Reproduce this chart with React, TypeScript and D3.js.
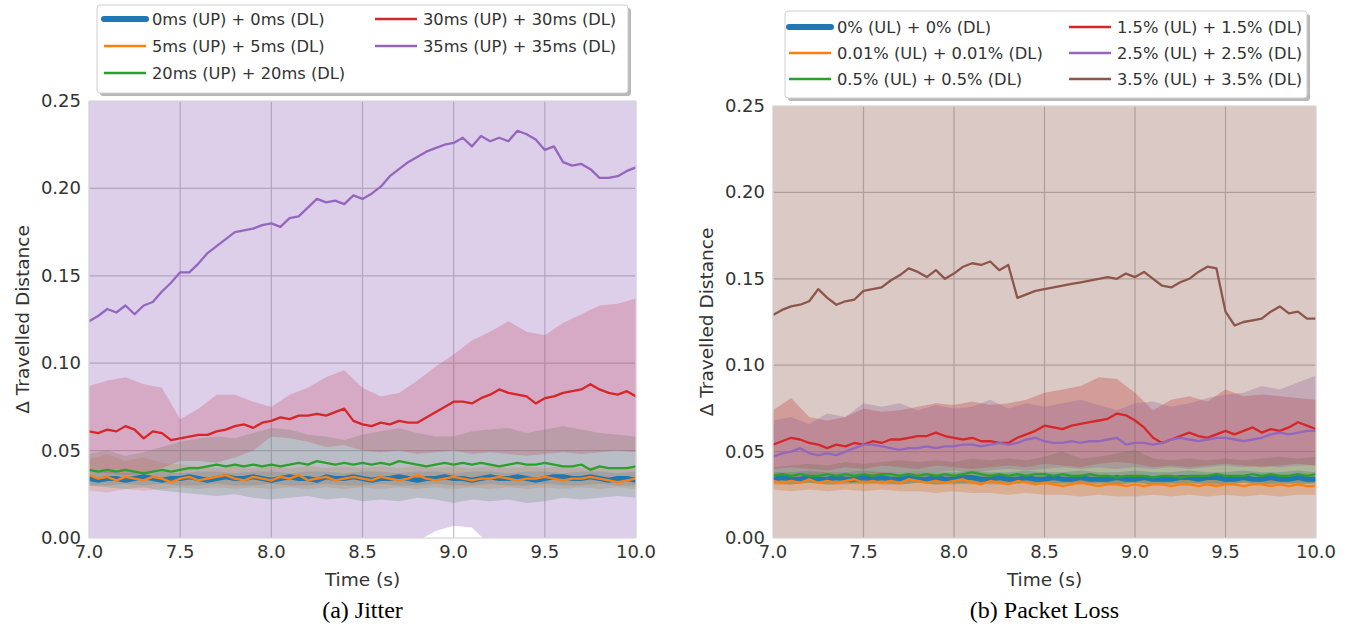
import * as d3 from 'd3'

// mean curves are sampled every 50 ms, the spread bands every 100 ms
const lineTimes = d3.range(61).map((i) => 7 + i * 0.05)
const bandTimes = d3.range(31).map((i) => 7 + i * 0.1)

const xTicks = [7.0, 7.5, 8.0, 8.5, 9.0, 9.5, 10.0]
const yTicks = [0, 0.05, 0.1, 0.15, 0.2, 0.25]

const COLORS = ['#1f77b4', '#ff7f0e', '#2ca02c', '#d62728', '#9467bd', '#8c564b']

// ---------- (a) Jitter ----------
const jitterLabels = [
  '0ms (UP) + 0ms (DL)',
  '5ms (UP) + 5ms (DL)',
  '20ms (UP) + 20ms (DL)',
  '30ms (UP) + 30ms (DL)',
  '35ms (UP) + 35ms (DL)',
]

const jitter0 = [
  0.034, 0.033, 0.034, 0.034, 0.033, 0.034, 0.035, 0.034, 0.033, 0.034,
  0.034, 0.035, 0.034, 0.033, 0.034, 0.035, 0.034, 0.034, 0.035, 0.034,
  0.033, 0.034, 0.035, 0.034, 0.034, 0.033, 0.035, 0.034, 0.034, 0.035,
  0.034, 0.033, 0.034, 0.034, 0.035, 0.034, 0.033, 0.034, 0.034, 0.035,
  0.034, 0.034, 0.033, 0.034, 0.035, 0.034, 0.034, 0.035, 0.034, 0.033,
  0.034, 0.035, 0.035, 0.034, 0.034, 0.035, 0.034, 0.033, 0.034, 0.034,
  0.033,
]
const jitter5 = [
  0.036, 0.034, 0.035, 0.033, 0.035, 0.034, 0.033, 0.035, 0.034, 0.032,
  0.034, 0.035, 0.033, 0.034, 0.035, 0.036, 0.034, 0.033, 0.035, 0.034,
  0.033, 0.035, 0.034, 0.036, 0.033, 0.034, 0.035, 0.033, 0.034, 0.035,
  0.034, 0.033, 0.035, 0.034, 0.033, 0.034, 0.036, 0.034, 0.033, 0.034,
  0.035, 0.034, 0.033, 0.034, 0.034, 0.035, 0.034, 0.033, 0.034, 0.034,
  0.035, 0.034, 0.033, 0.034, 0.034, 0.035, 0.034, 0.033, 0.032, 0.033,
  0.034,
]
const jitter20 = [
  0.039, 0.038, 0.039, 0.038, 0.039, 0.038, 0.037, 0.038, 0.039, 0.038,
  0.039, 0.040, 0.040, 0.041, 0.042, 0.041, 0.042, 0.041, 0.042, 0.041,
  0.042, 0.041, 0.042, 0.043, 0.042, 0.044, 0.043, 0.042, 0.043, 0.042,
  0.043, 0.042, 0.043, 0.042, 0.044, 0.043, 0.042, 0.041, 0.042, 0.043,
  0.042, 0.043, 0.042, 0.043, 0.042, 0.041, 0.042, 0.043, 0.042, 0.042,
  0.043, 0.042, 0.041, 0.041, 0.042, 0.039, 0.041, 0.040, 0.040, 0.040,
  0.041,
]
const jitter30 = [
  0.061, 0.060, 0.062, 0.061, 0.064, 0.062, 0.057, 0.061, 0.060, 0.056,
  0.057, 0.058, 0.059, 0.059, 0.061, 0.062, 0.064, 0.065, 0.063, 0.066,
  0.067, 0.069, 0.068, 0.070, 0.070, 0.071, 0.070, 0.072, 0.074, 0.067,
  0.065, 0.064, 0.066, 0.065, 0.067, 0.066, 0.066, 0.069, 0.072, 0.075,
  0.078, 0.078, 0.077, 0.080, 0.082, 0.085, 0.083, 0.082, 0.081, 0.077,
  0.080, 0.081, 0.083, 0.084, 0.085, 0.088, 0.085, 0.083, 0.082, 0.084,
  0.081,
]
const jitter35 = [
  0.124, 0.127, 0.131, 0.129, 0.133, 0.128, 0.133, 0.135, 0.141, 0.146,
  0.152, 0.152, 0.157, 0.163, 0.167, 0.171, 0.175, 0.176, 0.177, 0.179,
  0.180, 0.178, 0.183, 0.184, 0.189, 0.194, 0.192, 0.193, 0.191, 0.196,
  0.194, 0.197, 0.201, 0.207, 0.211, 0.215, 0.218, 0.221, 0.223, 0.225,
  0.226, 0.229, 0.224, 0.230, 0.227, 0.229, 0.227, 0.233, 0.231, 0.228,
  0.222, 0.224, 0.215, 0.213, 0.214, 0.211, 0.206, 0.206, 0.207, 0.210,
  0.212,
]

const jitter0Lo = [0.030, 0.030, 0.031, 0.030, 0.031, 0.030, 0.030, 0.031, 0.030, 0.030, 0.031, 0.030, 0.030, 0.031, 0.030, 0.030, 0.031, 0.030, 0.030, 0.031, 0.030, 0.030, 0.031, 0.030, 0.030, 0.031, 0.030, 0.030, 0.031, 0.030, 0.030]
const jitter0Hi = [0.038, 0.038, 0.037, 0.038, 0.038, 0.037, 0.038, 0.038, 0.037, 0.038, 0.038, 0.037, 0.038, 0.038, 0.037, 0.038, 0.038, 0.037, 0.038, 0.038, 0.037, 0.038, 0.038, 0.037, 0.038, 0.038, 0.037, 0.038, 0.038, 0.037, 0.038]
const jitter5Lo = [0.027, 0.026, 0.028, 0.027, 0.028, 0.029, 0.028, 0.029, 0.028, 0.029, 0.028, 0.029, 0.028, 0.029, 0.028, 0.029, 0.028, 0.029, 0.028, 0.029, 0.028, 0.029, 0.028, 0.029, 0.028, 0.029, 0.028, 0.029, 0.028, 0.029, 0.028]
const jitter5Hi = [0.045, 0.048, 0.044, 0.046, 0.043, 0.042, 0.041, 0.040, 0.041, 0.040, 0.041, 0.040, 0.041, 0.040, 0.041, 0.040, 0.041, 0.040, 0.041, 0.040, 0.041, 0.040, 0.041, 0.040, 0.041, 0.040, 0.041, 0.040, 0.041, 0.040, 0.040]
const jitter20Lo = [0.030, 0.029, 0.028, 0.029, 0.027, 0.026, 0.025, 0.024, 0.025, 0.023, 0.022, 0.023, 0.024, 0.022, 0.023, 0.021, 0.022, 0.021, 0.023, 0.022, 0.020, 0.022, 0.021, 0.022, 0.020, 0.021, 0.023, 0.022, 0.023, 0.024, 0.023]
const jitter20Hi = [0.048, 0.050, 0.047, 0.049, 0.052, 0.055, 0.057, 0.058, 0.057, 0.060, 0.063, 0.062, 0.059, 0.058, 0.056, 0.059, 0.061, 0.063, 0.060, 0.058, 0.058, 0.061, 0.062, 0.063, 0.060, 0.062, 0.064, 0.062, 0.060, 0.059, 0.058]
const jitter30Lo = [0.038, 0.037, 0.036, 0.037, 0.040, 0.044, 0.044, 0.043, 0.046, 0.050, 0.058, 0.057, 0.055, 0.052, 0.053, 0.050, 0.049, 0.050, 0.048, 0.049, 0.050, 0.048, 0.049, 0.048, 0.047, 0.048, 0.049, 0.048, 0.049, 0.050, 0.049]
const jitter30Hi = [0.087, 0.090, 0.092, 0.088, 0.086, 0.068, 0.074, 0.082, 0.082, 0.078, 0.075, 0.082, 0.086, 0.092, 0.096, 0.086, 0.081, 0.083, 0.090, 0.098, 0.105, 0.113, 0.118, 0.124, 0.118, 0.116, 0.123, 0.128, 0.133, 0.134, 0.137]
const jitter35Lo = [-0.030, -0.030, -0.028, -0.027, -0.025, -0.024, -0.022, -0.020, -0.018, -0.015, -0.012, -0.010, -0.008, -0.006, -0.004, -0.002, -0.002, -0.003, -0.002, 0.004, 0.007, 0.006, -0.004, -0.008, -0.010, -0.012, -0.014, -0.016, -0.018, -0.020, -0.020]
const jitter35Hi = [0.27, 0.28, 0.28, 0.29, 0.30, 0.31, 0.32, 0.33, 0.34, 0.35, 0.35, 0.36, 0.37, 0.37, 0.38, 0.38, 0.39, 0.40, 0.41, 0.42, 0.43, 0.43, 0.43, 0.42, 0.42, 0.41, 0.40, 0.40, 0.39, 0.39, 0.40]

// ---------- (b) Packet loss ----------
const lossLabels = [
  '0% (UL) + 0% (DL)',
  '0.01% (UL) + 0.01% (DL)',
  '0.5% (UL) + 0.5% (DL)',
  '1.5% (UL) + 1.5% (DL)',
  '2.5% (UL) + 2.5% (DL)',
  '3.5% (UL) + 3.5% (DL)',
]

const loss0 = [
  0.034, 0.035, 0.034, 0.034, 0.035, 0.034, 0.034, 0.035, 0.034, 0.034,
  0.035, 0.034, 0.035, 0.034, 0.034, 0.035, 0.034, 0.034, 0.035, 0.034,
  0.034, 0.035, 0.035, 0.034, 0.034, 0.035, 0.034, 0.034, 0.035, 0.034,
  0.034, 0.035, 0.034, 0.034, 0.035, 0.034, 0.034, 0.034, 0.035, 0.034,
  0.034, 0.035, 0.034, 0.034, 0.034, 0.035, 0.035, 0.034, 0.035, 0.035,
  0.034, 0.034, 0.035, 0.034, 0.034, 0.035, 0.034, 0.034, 0.035, 0.034,
  0.034,
]
const loss001 = [
  0.033, 0.032, 0.033, 0.032, 0.034, 0.032, 0.033, 0.032, 0.033, 0.034,
  0.032, 0.033, 0.032, 0.033, 0.032, 0.034, 0.033, 0.032, 0.033, 0.032,
  0.033, 0.034, 0.032, 0.031, 0.033, 0.032, 0.031, 0.033, 0.032, 0.031,
  0.032, 0.031, 0.030, 0.031, 0.032, 0.031, 0.030, 0.031, 0.031, 0.030,
  0.031, 0.030, 0.031, 0.031, 0.030, 0.031, 0.031, 0.030, 0.031, 0.030,
  0.031, 0.031, 0.030, 0.031, 0.031, 0.030, 0.031, 0.030, 0.031, 0.030,
  0.030,
]
const loss05 = [
  0.036, 0.037, 0.036, 0.037, 0.036, 0.036, 0.037, 0.036, 0.037, 0.036,
  0.037, 0.036, 0.037, 0.037, 0.036, 0.037, 0.036, 0.037, 0.036, 0.037,
  0.036, 0.037, 0.038, 0.037, 0.036, 0.037, 0.036, 0.037, 0.036, 0.037,
  0.037, 0.036, 0.037, 0.036, 0.036, 0.037, 0.036, 0.036, 0.035, 0.036,
  0.036, 0.036, 0.035, 0.036, 0.036, 0.035, 0.036, 0.036, 0.036, 0.037,
  0.036, 0.036, 0.036, 0.037, 0.036, 0.037, 0.036, 0.036, 0.037, 0.036,
  0.037,
]
const loss15 = [
  0.054, 0.056, 0.058, 0.057, 0.055, 0.054, 0.052, 0.054, 0.053, 0.055,
  0.054, 0.056, 0.055, 0.057, 0.057, 0.058, 0.059, 0.059, 0.061, 0.059,
  0.058, 0.057, 0.058, 0.056, 0.056, 0.055, 0.055, 0.058, 0.060, 0.062,
  0.065, 0.064, 0.063, 0.065, 0.066, 0.067, 0.068, 0.069, 0.072, 0.071,
  0.068, 0.064, 0.058, 0.055, 0.057, 0.059, 0.061, 0.059, 0.058, 0.060,
  0.062, 0.060, 0.062, 0.064, 0.061, 0.063, 0.062, 0.064, 0.067, 0.065,
  0.063,
]
const loss25 = [
  0.047, 0.049, 0.050, 0.052, 0.049, 0.048, 0.049, 0.048, 0.050, 0.052,
  0.054, 0.054, 0.053, 0.052, 0.051, 0.052, 0.052, 0.053, 0.052, 0.053,
  0.053, 0.054, 0.054, 0.053, 0.054, 0.055, 0.054, 0.055, 0.057, 0.058,
  0.056, 0.055, 0.055, 0.056, 0.055, 0.056, 0.056, 0.057, 0.058, 0.054,
  0.055, 0.055, 0.054, 0.055, 0.057, 0.058, 0.057, 0.056, 0.057, 0.058,
  0.058, 0.057, 0.056, 0.057, 0.058, 0.060, 0.061, 0.060, 0.061, 0.062,
  0.062,
]
const loss35 = [
  0.129, 0.132, 0.134, 0.135, 0.137, 0.144, 0.139, 0.135, 0.137, 0.138,
  0.143, 0.144, 0.145, 0.149, 0.152, 0.156, 0.154, 0.151, 0.155, 0.150,
  0.153, 0.157, 0.159, 0.158, 0.160, 0.155, 0.158, 0.139, 0.141, 0.143,
  0.144, 0.145, 0.146, 0.147, 0.148, 0.149, 0.150, 0.151, 0.150, 0.153,
  0.151, 0.154, 0.150, 0.146, 0.145, 0.148, 0.150, 0.154, 0.157, 0.156,
  0.131, 0.123, 0.125, 0.126, 0.127, 0.131, 0.134, 0.130, 0.131, 0.127,
  0.127,
]

const loss0Lo = [0.031, 0.031, 0.032, 0.031, 0.031, 0.032, 0.031, 0.031, 0.032, 0.031, 0.031, 0.032, 0.031, 0.031, 0.032, 0.031, 0.031, 0.032, 0.031, 0.031, 0.032, 0.031, 0.031, 0.032, 0.031, 0.031, 0.032, 0.031, 0.031, 0.032, 0.031]
const loss0Hi = [0.038, 0.038, 0.039, 0.038, 0.038, 0.039, 0.038, 0.038, 0.039, 0.038, 0.038, 0.039, 0.038, 0.038, 0.039, 0.038, 0.038, 0.039, 0.038, 0.038, 0.039, 0.038, 0.038, 0.039, 0.038, 0.038, 0.039, 0.038, 0.038, 0.039, 0.038]
const loss001Lo = [0.028, 0.027, 0.028, 0.027, 0.028, 0.027, 0.028, 0.027, 0.027, 0.026, 0.027, 0.026, 0.026, 0.025, 0.026, 0.025, 0.025, 0.024, 0.025, 0.024, 0.024, 0.025, 0.024, 0.025, 0.024, 0.025, 0.024, 0.025, 0.024, 0.025, 0.025]
const loss001Hi = [0.038, 0.037, 0.038, 0.038, 0.037, 0.038, 0.038, 0.037, 0.038, 0.037, 0.037, 0.036, 0.037, 0.036, 0.037, 0.036, 0.036, 0.037, 0.036, 0.036, 0.037, 0.036, 0.036, 0.035, 0.036, 0.036, 0.035, 0.036, 0.036, 0.035, 0.036]
const loss05Lo = [0.032, 0.031, 0.032, 0.031, 0.032, 0.031, 0.032, 0.031, 0.032, 0.031, 0.032, 0.031, 0.032, 0.031, 0.032, 0.031, 0.032, 0.031, 0.032, 0.031, 0.032, 0.031, 0.032, 0.031, 0.032, 0.031, 0.032, 0.031, 0.032, 0.031, 0.032]
const loss05Hi = [0.041, 0.042, 0.043, 0.042, 0.044, 0.043, 0.044, 0.045, 0.044, 0.045, 0.044, 0.046, 0.045, 0.046, 0.045, 0.047, 0.050, 0.046, 0.047, 0.049, 0.051, 0.046, 0.045, 0.046, 0.045, 0.046, 0.045, 0.046, 0.047, 0.046, 0.047]
const loss15Lo = [0.040, 0.041, 0.040, 0.039, 0.041, 0.040, 0.042, 0.041, 0.040, 0.042, 0.041, 0.040, 0.041, 0.042, 0.041, 0.043, 0.042, 0.041, 0.043, 0.044, 0.043, 0.041, 0.042, 0.041, 0.042, 0.043, 0.042, 0.041, 0.042, 0.043, 0.042]
const loss15Hi = [0.074, 0.081, 0.070, 0.068, 0.070, 0.075, 0.073, 0.074, 0.076, 0.078, 0.077, 0.079, 0.077, 0.078, 0.080, 0.084, 0.086, 0.088, 0.093, 0.092, 0.084, 0.074, 0.080, 0.082, 0.079, 0.086, 0.082, 0.083, 0.082, 0.081, 0.080]
const loss25Lo = [0.036, 0.037, 0.036, 0.038, 0.037, 0.038, 0.037, 0.038, 0.039, 0.038, 0.039, 0.038, 0.039, 0.040, 0.039, 0.040, 0.041, 0.040, 0.041, 0.040, 0.041, 0.040, 0.041, 0.040, 0.041, 0.042, 0.041, 0.042, 0.041, 0.042, 0.042]
const loss25Hi = [0.068, 0.070, 0.066, 0.072, 0.070, 0.078, 0.076, 0.078, 0.074, 0.077, 0.075, 0.076, 0.080, 0.075, 0.078, 0.076, 0.078, 0.080, 0.077, 0.074, 0.078, 0.079, 0.076, 0.078, 0.081, 0.083, 0.084, 0.088, 0.086, 0.090, 0.094]
const loss35Lo = [-0.05, -0.05, -0.06, -0.05, -0.06, -0.05, -0.06, -0.05, -0.06, -0.05, -0.06, -0.05, -0.06, -0.05, -0.06, -0.05, -0.06, -0.05, -0.06, -0.05, -0.06, -0.05, -0.06, -0.05, -0.06, -0.05, -0.06, -0.05, -0.06, -0.05, -0.06]
const loss35Hi = [0.30, 0.31, 0.31, 0.32, 0.32, 0.33, 0.33, 0.34, 0.34, 0.35, 0.35, 0.35, 0.36, 0.36, 0.35, 0.35, 0.35, 0.36, 0.36, 0.36, 0.36, 0.35, 0.35, 0.34, 0.34, 0.33, 0.33, 0.33, 0.32, 0.32, 0.32]

type Series = {
  label: string
  color: string
  width: number
  values: number[]
  lo: number[]
  hi: number[]
  alpha: number
}

const makeSeries = (labels: string[], values: number[][], bands: number[][][], big: number, alpha: number): Series[] =>
  labels.map((label, i) => ({
    label,
    color: COLORS[i],
    width: i === 0 ? 5 : 2.3,
    values: values[i],
    lo: bands[i][0],
    hi: bands[i][1],
    alpha: i === big ? 0.32 : alpha,
  }))

const jitterSeries = makeSeries(
  jitterLabels,
  [jitter0, jitter5, jitter20, jitter30, jitter35],
  [[jitter0Lo, jitter0Hi], [jitter5Lo, jitter5Hi], [jitter20Lo, jitter20Hi], [jitter30Lo, jitter30Hi], [jitter35Lo, jitter35Hi]],
  4,
  0.25
)
const lossSeries = makeSeries(
  lossLabels,
  [loss0, loss001, loss05, loss15, loss25, loss35],
  [[loss0Lo, loss0Hi], [loss001Lo, loss001Hi], [loss05Lo, loss05Hi], [loss15Lo, loss15Hi], [loss25Lo, loss25Hi], [loss35Lo, loss35Hi]],
  5,
  0.3
)

const SANS = 'DejaVu Sans, sans-serif'
const TEXT = '#333333'

type LegendBox = { x: number; y: number; w: number; h: number; cols: number[]; rows: number[] }

const Panel = ({ id, left, right, top, bottom, series, legend, caption }: {
  id: string
  left: number
  right: number
  top: number
  bottom: number
  series: Series[]
  legend: LegendBox
  caption: string
}) => {
  const x = d3.scaleLinear().domain([7, 10]).range([left, right])
  const y = d3.scaleLinear().domain([0, 0.25]).range([bottom, top])
  const line = d3.line<number>().x((_, i) => x(lineTimes[i])).y((d) => y(d))
  const band = (lo: number[], hi: number[]) =>
    d3.area<number>().x((_, i) => x(bandTimes[i])).y0((d) => y(d)).y1((_, i) => y(hi[i]))(lo)
  const midX = (left + right) / 2
  const midY = (top + bottom) / 2

  return (
    <g>
      <defs>
        <clipPath id={id}>
          <rect x={left} y={top} width={right - left} height={bottom - top} />
        </clipPath>
      </defs>
      <rect x={left} y={top} width={right - left} height={bottom - top} fill="#fff" />
      {xTicks.map((t) => (
        <line key={'gx' + t} x1={x(t)} x2={x(t)} y1={top} y2={bottom} stroke="#c0c0c0" strokeWidth={1.2} />
      ))}
      {yTicks.map((t) => (
        <line key={'gy' + t} x1={left} x2={right} y1={y(t)} y2={y(t)} stroke="#c0c0c0" strokeWidth={1.2} />
      ))}
      <g clipPath={`url(#${id})`}>
        {series.map((s) => (
          <path key={'b' + s.label} d={band(s.lo, s.hi) ?? ''} fill={s.color} fillOpacity={s.alpha} />
        ))}
        {series.map((s) => (
          <path key={'l' + s.label} d={line(s.values) ?? ''} fill="none" stroke={s.color} strokeWidth={s.width} strokeLinejoin="round" />
        ))}
      </g>
      <rect x={left} y={top} width={right - left} height={bottom - top} fill="none" stroke="#ececec" strokeWidth={1} />
      {xTicks.map((t) => (
        <text key={'tx' + t} x={x(t)} y={bottom + 20} textAnchor="middle" fontFamily={SANS} fontSize={18} fill={TEXT}>
          {d3.format('.1f')(t)}
        </text>
      ))}
      {yTicks.map((t) => (
        <text key={'ty' + t} x={left - 8} y={y(t) + 6} textAnchor="end" fontFamily={SANS} fontSize={18} fill={TEXT}>
          {d3.format('.2f')(t)}
        </text>
      ))}
      <text x={midX} y={bottom + 48} textAnchor="middle" fontFamily={SANS} fontSize={18.5} fill={TEXT}>
        Time (s)
      </text>
      <text transform={`translate(${left - 60},${midY}) rotate(-90)`} textAnchor="middle" fontFamily={SANS} fontSize={18.5} fill={TEXT}>
        Δ Travelled Distance
      </text>
      <text x={midX} y={bottom + 80} textAnchor="middle" fontFamily="Liberation Serif, Times New Roman, serif" fontSize={24} fill="#000">
        {caption}
      </text>
      <rect x={legend.x + 3} y={legend.y + 3} width={legend.w} height={legend.h} rx={3} fill="#888" fillOpacity={0.6} />
      <rect x={legend.x} y={legend.y} width={legend.w} height={legend.h} rx={3} fill="#fff" stroke="#cfcfcf" />
      {series.map((s, i) => {
        const cx = legend.cols[Math.floor(i / 3)]
        const cy = legend.rows[i % 3]
        return (
          <g key={'lg' + s.label}>
            <line x1={cx} x2={cx + 42} y1={cy} y2={cy} stroke={s.color} strokeWidth={i === 0 ? 6 : 2.5} strokeLinecap={i === 0 ? 'round' : 'butt'} />
            <text x={cx + 48} y={cy + 6} fontFamily={SANS} fontSize={16.3} fill={TEXT}>
              {s.label}
            </text>
          </g>
        )
      })}
    </g>
  )
}

export default function App() {
  return (
    <svg width={1352} height={628} style={{ position: 'absolute', left: 0, top: 0, background: '#fff' }}>
      <Panel
        id="clip-jitter"
        left={89}
        right={636}
        top={101}
        bottom={538}
        series={jitterSeries}
        legend={{ x: 97, y: 5, w: 531, h: 88, cols: [104, 375], rows: [19, 46, 73] }}
        caption="(a) Jitter"
      />
      <Panel
        id="clip-loss"
        left={773}
        right={1316}
        top={106}
        bottom={538}
        series={lossSeries}
        legend={{ x: 785, y: 11, w: 522, h: 87, cols: [789, 1069], rows: [27, 53, 79] }}
        caption="(b) Packet Loss"
      />
    </svg>
  )
}
